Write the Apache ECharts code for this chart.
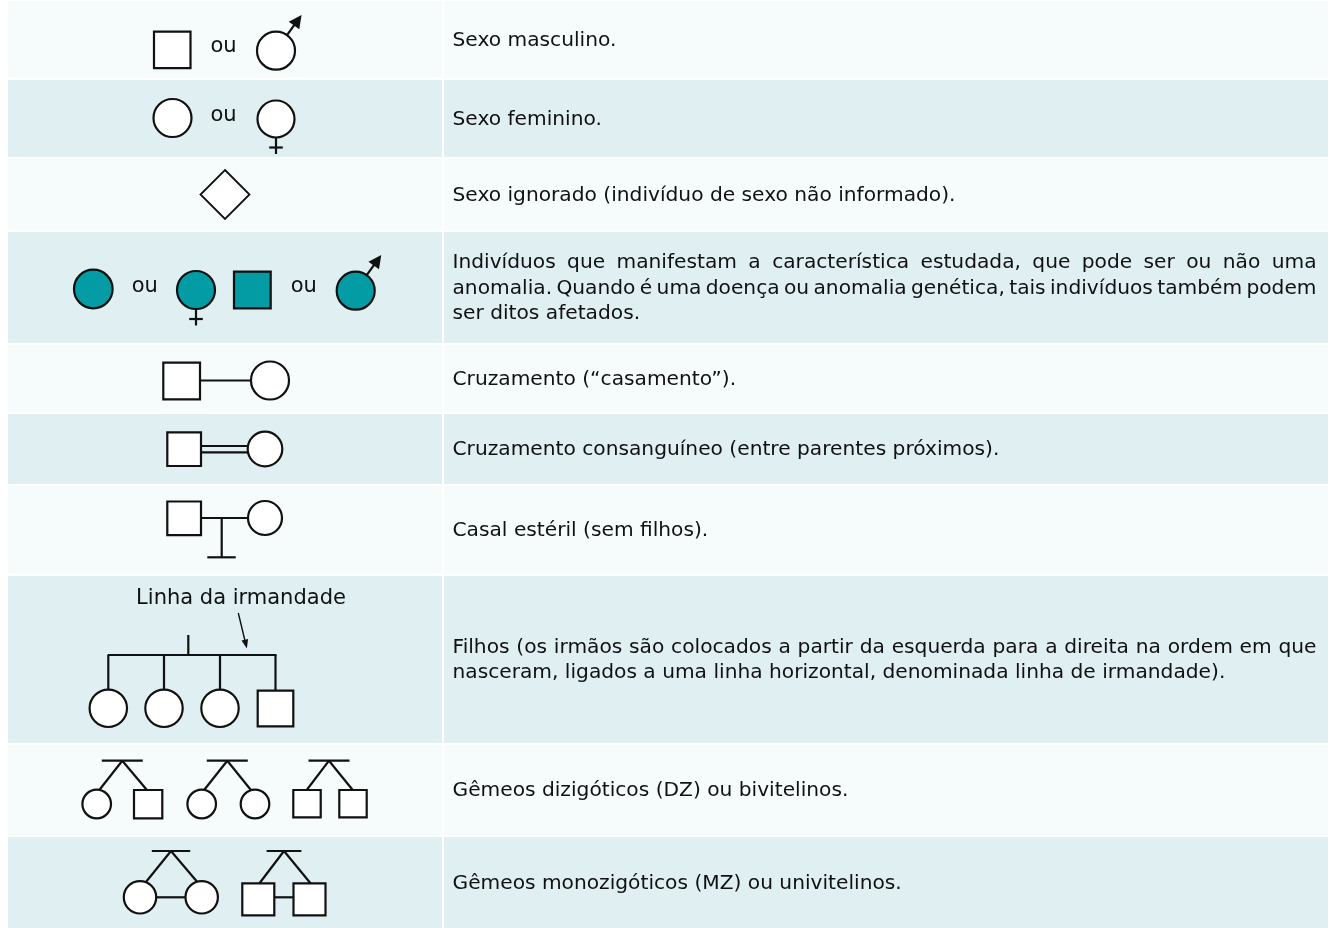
<!DOCTYPE html>
<html><head><meta charset="utf-8">
<script src="https://cdn.jsdelivr.net/npm/echarts@6/dist/echarts.min.js"></script>
<style>html,body{margin:0;padding:0;background:#fff}#c{width:1336px;height:928px}</style>
</head><body><div id="c"></div>
<script>
// ---------- content ----------
const symbolKeys = ['male', 'female', 'unknown', 'affected', 'mating', 'consanguineous', 'sterile', 'siblings', 'dizygotic', 'monozygotic'];
const descriptions = [
  ['Sexo masculino.'],
  ['Sexo feminino.'],
  ['Sexo ignorado (indivíduo de sexo não informado).'],
  ['Indivíduos que manifestam a característica estudada, que pode ser ou não uma',
   'anomalia. Quando é uma doença ou anomalia genética, tais indivíduos também podem',
   'ser ditos afetados.'],
  ['Cruzamento (“casamento”).'],
  ['Cruzamento consanguíneo (entre parentes próximos).'],
  ['Casal estéril (sem filhos).'],
  ['Filhos (os irmãos são colocados a partir da esquerda para a direita na ordem em que',
   'nasceram, ligados a uma linha horizontal, denominada linha de irmandade).'],
  ['Gêmeos dizigóticos (DZ) ou bivitelinos.'],
  ['Gêmeos monozigóticos (MZ) ou univitelinos.']
];
const orWord = 'ou';
const siblingLabel = 'Linha da irmandade';

// ---------- layout & style ----------
const rowEdges = [[1,78],[80,157],[159,230],[232,343],[345,412],[414,484],[486,574],[576,743],[745,835],[837,928]];
const tableLeft = 8, tableRight = 1328, colSplit = 442, col2Left = 444;
const textLeft = 452.5, textRight = 1316.5;
const bgLight = '#f6fbfc', bgDark = '#dfeff2';
const ink = '#111', textColor = '#111111', teal = '#039ba4';
const FONT = 'DejaVu Sans', bodySize = 20.2, lineH = 25.5, labelSize = 21;
const LW = 2.2;

const els = [];
const measureCtx = document.createElement('canvas').getContext('2d');
measureCtx.font = bodySize + 'px "' + FONT + '"';

function circ(cx, cy, r, fill) { els.push({type:'circle', shape:{cx, cy, r}, style:{fill: fill || '#fff', stroke: ink, lineWidth: LW}}); }
function sq(x, y, w, fill) { els.push({type:'rect', shape:{x, y, width:w, height:w}, style:{fill: fill || '#fff', stroke: ink, lineWidth: LW}}); }
function ln(x1, y1, x2, y2, w) { els.push({type:'line', shape:{x1, y1, x2, y2}, style:{stroke: ink, lineWidth: w || LW}}); }
function txt(x, y, t, size, align) {
  els.push({type:'text', x, y, style:{text:t, fontFamily:FONT, fontSize:size, fill:textColor, align: align || 'left', verticalAlign:'middle'}});
}
function arrowHead(x1, y1, x2, y2, len, half) {
  const dx = x2 - x1, dy = y2 - y1, L = Math.hypot(dx, dy), ux = dx / L, uy = dy / L;
  const bx = x2 - ux * len, by = y2 - uy * len;
  els.push({type:'polygon', shape:{points:[[x2, y2], [bx - uy * half, by + ux * half], [bx + uy * half, by - ux * half]]}, style:{fill: ink}});
}
function male(cx, cy, r, fill) {
  const a = 54.5 * Math.PI / 180, ux = Math.cos(a), uy = -Math.sin(a);
  const sx = cx + ux * r, sy = cy + uy * r, tx = cx + ux * (r + 25), ty = cy + uy * (r + 25);
  ln(sx, sy, tx - ux * 9, ty - uy * 9);
  arrowHead(sx, sy, tx, ty, 13, 6.5);
  circ(cx, cy, r, fill);
}
function female(cx, cy, r, fill) {
  ln(cx, cy + r, cx, cy + r + 16.5);
  ln(cx - 6.8, cy + r + 10, cx + 6.8, cy + r + 10);
  circ(cx, cy, r, fill);
}
function twinsTop(apex, barY, halfBar, lx, rx, endY) {
  ln(apex - halfBar, barY, apex + halfBar, barY);
  ln(apex, barY, lx, endY);
  ln(apex, barY, rx, endY);
}

// backgrounds
rowEdges.forEach(([t, b], i) => {
  const fill = i % 2 === 0 ? bgLight : bgDark;
  els.push({type:'rect', shape:{x:tableLeft, y:t, width:colSplit - tableLeft, height:b - t}, style:{fill}, silent:true});
  els.push({type:'rect', shape:{x:col2Left, y:t, width:tableRight - col2Left, height:b - t}, style:{fill}, silent:true});
});

// descriptions (justified like the original)
descriptions.forEach((lines, i) => {
  const [t, b] = rowEdges[i];
  const mid = (t + b) / 2 + 1;
  const n = lines.length;
  lines.forEach((line, j) => {
    const y = mid + (j - (n - 1) / 2) * lineH;
    if (j < n - 1) {
      const words = line.split(' ');
      const widths = words.map(w => measureCtx.measureText(w).width);
      const total = widths.reduce((s, v) => s + v, 0);
      const gap = (textRight - textLeft - total) / (words.length - 1);
      let x = textLeft;
      words.forEach((w, k) => { txt(x, y, w, bodySize); x += widths[k] + gap; });
    } else {
      txt(textLeft, y, line, bodySize);
    }
  });
});

// symbols
const draw = {
  male() { sq(154, 31.7, 36.5); txt(223.5, 46.8, orWord, labelSize, 'center'); male(276, 50.7, 19); },
  female() { circ(172.5, 118, 19); txt(223.5, 116, orWord, labelSize, 'center'); female(276, 119, 18.5); },
  unknown() { els.push({type:'polygon', shape:{points:[[225,170],[249.5,194.5],[225,219],[200.5,194.5]]}, style:{fill:'#fff', stroke:ink, lineWidth:1.8}}); },
  affected() {
    circ(93.3, 289, 19.3, teal);
    txt(144.8, 286.5, orWord, labelSize, 'center');
    female(196, 290, 19, teal);
    sq(234, 271.7, 36.7, teal);
    txt(303.8, 286.5, orWord, labelSize, 'center');
    male(355.7, 290.7, 19, teal);
  },
  mating() { ln(200, 380.5, 252, 380.5); sq(163.3, 362.7, 36.7); circ(270, 380.5, 19); },
  consanguineous() { ln(201, 446, 248, 446); ln(201, 452.3, 248, 452.3); sq(167.3, 432.3, 33.7); circ(265, 449, 17.3); },
  sterile() { ln(201, 518, 248, 518); ln(221.7, 518, 221.7, 557.3); ln(207.3, 557.3, 235.7, 557.3); sq(167.3, 501.5, 33.7); circ(265, 518, 17); },
  siblings() {
    txt(241, 599, siblingLabel, labelSize, 'center');
    ln(238.3, 613, 246.1, 645.5, 1.4);
    arrowHead(238.3, 613, 246.9, 648.5, 9, 3.4);
    ln(188.3, 635, 188.3, 655);
    ln(107.7, 655, 276.5, 655);
    [108.3, 164, 220, 275.5].forEach(x => ln(x, 655, x, 690));
    [108.3, 164, 220].forEach(x => circ(x, 708.3, 18.7));
    sq(257.7, 690.7, 35.6);
  },
  dizygotic() {
    twinsTop(122.3, 760.7, 20.5, 99.5, 146.7, 789.8);
    circ(96.7, 804, 14.3); sq(134, 790, 28.3);
    twinsTop(227.3, 760.7, 20.5, 204.3, 250.7, 789.8);
    circ(201.7, 804, 14.3); circ(255, 804, 14.3);
    twinsTop(329, 760.7, 20.5, 306.7, 352.7, 790);
    sq(293.3, 790, 27.4); sq(339.3, 790, 27.4);
  },
  monozygotic() {
    twinsTop(171, 851, 19.2, 144.3, 199, 884);
    ln(156, 897.3, 186, 897.3);
    circ(140, 897.3, 16.2); circ(201.7, 897.3, 16.2);
    twinsTop(284, 851, 17.4, 259.3, 310.7, 883.5);
    ln(274, 897.3, 294, 897.3);
    sq(242.3, 883.3, 32); sq(293.5, 883.3, 32);
  }
};
symbolKeys.forEach(k => draw[k]());

const chart = echarts.init(document.getElementById('c'), null, {renderer:'canvas', width:1336, height:928});
chart.setOption({backgroundColor:'#ffffff', animation:false, graphic:{elements: els}});
</script>
</body></html>
